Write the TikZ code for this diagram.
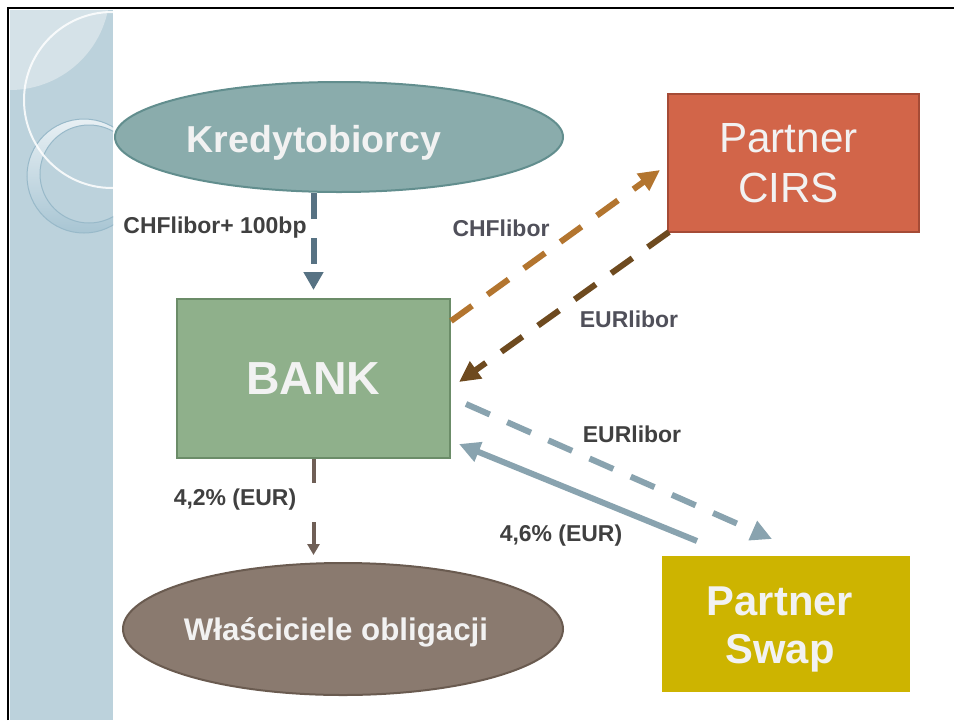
\documentclass[tikz,border=0pt]{standalone}
\usepackage{fontspec}
\setmainfont{Liberation Sans}
\usetikzlibrary{arrows.meta,shapes.geometric,calc}
\definecolor{stripc}{HTML}{BCD2DC}
\definecolor{stripl}{HTML}{D5E2E8}
\definecolor{ringl}{HTML}{E8F0F4}
\definecolor{ringb}{HTML}{A8C5D3}
\definecolor{ringd}{HTML}{98B9C9}
\definecolor{kredF}{HTML}{8AACAC}
\definecolor{kredD}{HTML}{628E8E}
\definecolor{cirsF}{HTML}{D26549}
\definecolor{cirsD}{HTML}{A54B36}
\definecolor{bankF}{HTML}{8FB08B}
\definecolor{bankD}{HTML}{6B8C68}
\definecolor{swapF}{HTML}{CDB400}
\definecolor{wlF}{HTML}{8A7A6F}
\definecolor{wlD}{HTML}{6A5B50}
\definecolor{arrA}{HTML}{577283}
\definecolor{arrO}{HTML}{B3752F}
\definecolor{arrB}{HTML}{6E4A1F}
\definecolor{arrS}{HTML}{89A3AF}
\definecolor{arrW}{HTML}{6F5F56}
\definecolor{labc}{HTML}{404040}
\definecolor{labd}{HTML}{50505A}
\definecolor{txtw}{HTML}{F2F2F2}
\tikzset{
  lbl/.style={font=\fontsize{19.6}{22}\selectfont\bfseries, text=labc, inner sep=0pt},
  lbl2/.style={lbl, text=labd},
  boxnode/.style={draw, line width=0.06cm, inner sep=0pt, text=txtw, align=center},
  ellnode/.style={ellipse, draw, line width=0.06cm, inner sep=0pt},
  wtext/.style={text=txtw, inner sep=0pt, align=center},
  dashA/.style={line width=0.18cm, dash pattern=on 0.78cm off 0.57cm},
  headbig/.style={-{Triangle[length=0.63cm,width=0.6cm]}},
}
\begin{document}
\begin{tikzpicture}[x=0.03cm,y=-0.03cm]
\useasboundingbox (0,0) rectangle (954,720);
\fill[white] (0,0) rectangle (954,720);
% left decorative strip
\fill[stripc] (10,10) rectangle (113,720);
\begin{scope}
  \clip (10,10) rectangle (113,720);
  \fill[stripl] (10,-10) circle[radius=100];
  \shade[even odd rule, top color=ringl, bottom color=ringb]
     (84,176) circle[radius=57] (89,174) circle[radius=49];
  \draw[ringd, line width=0.03cm] (84,176) circle[radius=57] (89,174) circle[radius=49];
  \draw[white, line width=0.06cm, opacity=0.85] (112,100) circle[radius=88];
\end{scope}
% slide border
\draw[black, line width=0.075cm] (8,720) -- (8,8) -- (954,8);

% nodes
\node[ellnode, draw=kredD, fill=kredF, minimum width=13.44cm, minimum height=3.3cm]
      (kred) at (339,137) {};
\node[wtext, anchor=base, font=\fontsize{32}{36}\selectfont\bfseries]
      (kredt) at (314,152) {Kredytobiorcy};
\node[boxnode, draw=cirsD, fill=cirsF, minimum width=7.53cm, minimum height=4.14cm]
      (cirs) at (793.5,163) {};
\node[wtext, font=\fontsize{36}{42.7}\selectfont] (cirst) at (788.5,163) {Partner\\CIRS};
\node[boxnode, draw=bankD, fill=bankF, minimum width=8.19cm, minimum height=4.77cm,
      font=\fontsize{39.6}{44}\selectfont\bfseries] (bank) at (313.5,378.5) {BANK};
\node[boxnode, draw=swapF, fill=swapF, minimum width=7.38cm, minimum height=4.02cm]
      (swap) at (786,624) {};
\node[wtext, font=\fontsize{35.6}{41}\selectfont\bfseries] (swapt) at (780,629) {Partner\\Swap};
\node[ellnode, draw=wlD, fill=wlF, minimum width=13.2cm, minimum height=3.96cm]
      (wl) at (343,629) {};
\node[wtext, anchor=base, font=\fontsize{26.7}{30}\selectfont\bfseries]
      (wlt) at (336,640) {Właściciele obligacji};

% connectors
\draw[arrA, dashA, -{Triangle[length=0.54cm,width=0.57cm]}, shorten >=0.24cm]
  (kred.south -| bank.north) -- (bank.north);
\draw[arrO, dashA, headbig]
  ($(bank.north east)+(0,23)$) -- ($(cirs.north west)+(-7,77)$);
\draw[arrB, dashA, headbig]
  ($(cirs.south west)+(2,-1)$) -- ($(bank.north east)+(8,84)$);
\draw[arrS, dashA, headbig]
  ($(bank.north east)+(15,106)$) -- ($(swap.north west)+(110,-17)$);
\draw[arrS, line width=0.18cm, headbig]
  ($(swap.north west)+(35,-15)$) -- ($(bank.north east)+(8,146)$);
\draw[arrW, line width=0.12cm, dash pattern=on 0.72cm off 1.17cm,
      -{Triangle[length=0.33cm,width=0.36cm]}, shorten >=0.21cm]
  (bank.south) -- (bank.south |- wl.north);

% labels
\node[lbl] (l1) at (215,228) {CHFlibor+ 100bp};
\node[lbl2] (l2) at (501,228) {CHFlibor};
\node[lbl2] (l3) at (629,319) {EURlibor};
\node[lbl] (l4) at (632,434) {EURlibor};
\node[lbl] (l5) at (561,536) {4,6\% (EUR)};
\node[lbl] (l6) at (235,500) {4,2\% (EUR)};
\end{tikzpicture}
\end{document}
